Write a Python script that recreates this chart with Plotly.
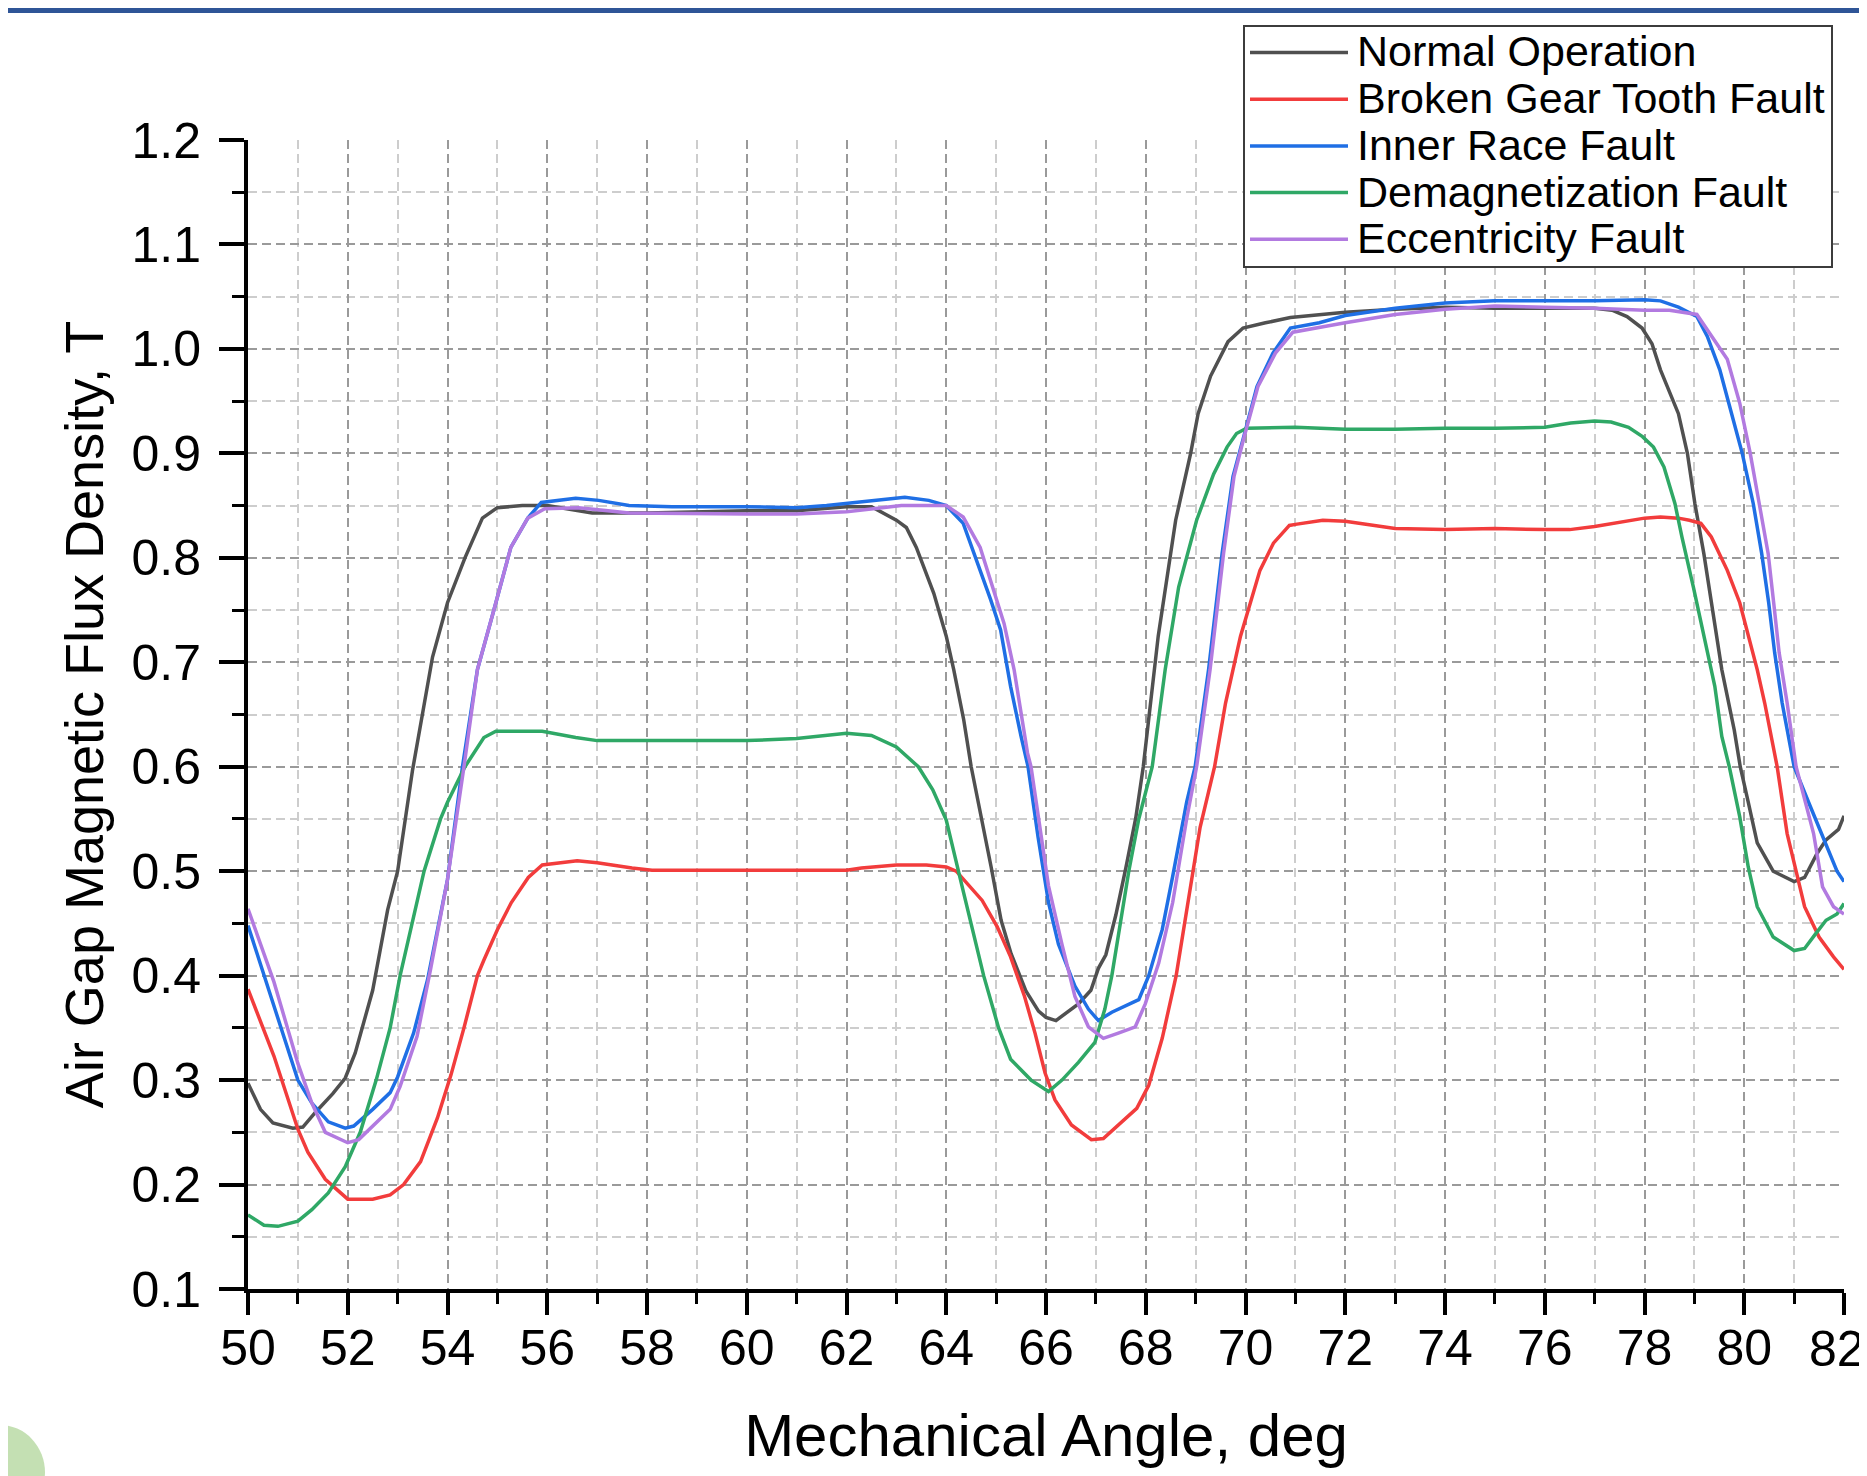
import plotly.graph_objects as go

# ---------------- data ----------------
normal_x = [50, 50.25, 50.5, 50.9, 51.1, 51.35, 51.7, 51.95, 52.15, 52.5, 52.8, 53.0, 53.3, 53.7, 54.0,
            54.35, 54.7, 55.0, 55.5, 56.0, 56.9, 58.0, 60.0, 61.0, 62.0, 62.5, 63.0, 63.2, 63.4, 63.75,
            64.0, 64.15, 64.35, 64.5, 64.9, 65.1, 65.3, 65.6, 65.85, 66.0, 66.2, 66.4, 66.65, 66.9, 67.05,
            67.2, 67.4, 67.6, 67.8, 67.95, 68.25, 68.6, 68.9, 69.05, 69.3, 69.65, 69.95, 70.4, 70.9, 72.0,
            73.0, 74.0, 75.0, 76.0, 77.0, 77.35, 77.65, 77.95, 78.15, 78.32, 78.68, 78.86, 79.01, 79.19,
            79.34, 79.55, 79.8, 79.92, 80.08, 80.26, 80.58, 81.0, 81.21, 81.46, 81.64, 81.89, 82.0]
normal_y = [0.297, 0.272, 0.259, 0.254, 0.255, 0.269, 0.287, 0.302, 0.326, 0.386, 0.463, 0.500, 0.597, 0.705, 0.757,
            0.800, 0.838, 0.848, 0.850, 0.850, 0.843, 0.843, 0.845, 0.845, 0.849, 0.849, 0.836, 0.829, 0.810, 0.766,
            0.725, 0.693, 0.645, 0.600, 0.504, 0.453, 0.421, 0.385, 0.366, 0.360, 0.357, 0.364, 0.373, 0.386, 0.407,
            0.420, 0.458, 0.503, 0.551, 0.600, 0.725, 0.836, 0.900, 0.938, 0.974, 1.007, 1.020, 1.025, 1.030, 1.035,
            1.038, 1.040, 1.039, 1.039, 1.039, 1.037, 1.031, 1.020, 1.005, 0.980, 0.938, 0.900, 0.852, 0.804,
            0.757, 0.693, 0.635, 0.600, 0.566, 0.527, 0.500, 0.490, 0.494, 0.517, 0.530, 0.540, 0.553]

broken_x = [50, 50.52, 51.0, 51.2, 51.55, 52.0, 52.5, 52.85, 53.12, 53.46, 53.8, 54.07, 54.33, 54.6, 54.73,
            55.0, 55.28, 55.62, 55.9, 56.6, 57.0, 57.7, 58.1, 60.0, 62.0, 62.3, 63.0, 63.6, 64.0, 64.2,
            64.48, 64.72, 65.02, 65.29, 65.57, 65.78, 65.98, 66.18, 66.51, 66.91, 67.15, 67.45, 67.82, 68.06,
            68.33, 68.61, 68.88, 69.09, 69.38, 69.6, 69.9, 70.09, 70.29, 70.56, 70.88, 71.0, 71.55, 72.0,
            72.52, 73.0, 74.0, 75.0, 76.0, 76.5, 77.0, 77.55, 78.0, 78.32, 78.68, 78.9, 79.13, 79.34, 79.66,
            79.91, 80.08, 80.26, 80.41, 80.55, 80.66, 80.86, 81.07, 81.21, 81.5, 81.79, 82.0]
broken_y = [0.387, 0.323, 0.253, 0.231, 0.205, 0.186, 0.186, 0.190, 0.200, 0.222, 0.264, 0.305, 0.350, 0.400, 0.415,
            0.444, 0.470, 0.494, 0.506, 0.510, 0.508, 0.503, 0.501, 0.501, 0.501, 0.503, 0.506, 0.506, 0.504, 0.500,
            0.485, 0.472, 0.447, 0.418, 0.380, 0.345, 0.307, 0.281, 0.257, 0.243, 0.244, 0.257, 0.273, 0.295,
            0.340, 0.400, 0.478, 0.542, 0.600, 0.661, 0.725, 0.757, 0.788, 0.814, 0.831, 0.832, 0.836, 0.835,
            0.831, 0.828, 0.827, 0.828, 0.827, 0.827, 0.830, 0.834, 0.838, 0.839, 0.838, 0.836, 0.833, 0.820, 0.788,
            0.757, 0.725, 0.693, 0.661, 0.629, 0.600, 0.536, 0.494, 0.466, 0.437, 0.418, 0.406]

inner_x = [50, 50.52, 51.0, 51.28, 51.61, 51.95, 52.12, 52.5, 52.85, 53.0, 53.32, 53.6, 54.0, 54.3, 54.6,
           54.93, 55.27, 55.61, 55.88, 56.57, 57.03, 57.64, 58.5, 60.0, 61.0, 61.6, 62.5, 63.17, 63.65, 64.0,
           64.34, 64.68, 64.89, 65.09, 65.29, 65.5, 65.64, 65.84, 66.05, 66.25, 66.58, 66.85, 67.05, 67.32,
           67.59, 67.86, 68.06, 68.33, 68.54, 68.82, 68.99, 69.26, 69.53, 69.75, 69.97, 70.23, 70.55, 70.9,
           71.48, 72.0, 73.0, 74.0, 75.0, 76.0, 77.0, 78.0, 78.32, 78.68, 79.05, 79.26, 79.51, 79.69, 79.96,
           80.18, 80.35, 80.49, 80.61, 80.76, 81.0, 81.29, 81.57, 81.86, 82.0]
inner_y = [0.448, 0.372, 0.300, 0.278, 0.260, 0.254, 0.256, 0.272, 0.288, 0.303, 0.345, 0.396, 0.492, 0.600, 0.693,
           0.750, 0.810, 0.838, 0.853, 0.857, 0.855, 0.850, 0.849, 0.849, 0.848, 0.850, 0.855, 0.858, 0.855, 0.850,
           0.833, 0.788, 0.760, 0.731, 0.677, 0.629, 0.600, 0.533, 0.470, 0.430, 0.390, 0.368, 0.357, 0.365,
           0.371, 0.377, 0.400, 0.444, 0.495, 0.566, 0.600, 0.693, 0.804, 0.878, 0.917, 0.964, 0.996, 1.020,
           1.025, 1.032, 1.039, 1.044, 1.046, 1.046, 1.046, 1.047, 1.046, 1.040, 1.031, 1.012, 0.980, 0.948, 0.900,
           0.852, 0.804, 0.757, 0.709, 0.661, 0.600, 0.566, 0.533, 0.500, 0.490]

demag_x = [50, 50.32, 50.6, 51.0, 51.28, 51.61, 51.95, 52.25, 52.57, 52.85, 53.05, 53.29, 53.53, 53.86, 54.0,
           54.35, 54.73, 54.97, 55.9, 56.57, 57.0, 60.0, 61.0, 62.0, 62.5, 63.0, 63.3, 63.44, 63.73, 64.0,
           64.35, 64.75, 65.05, 65.29, 65.7, 66.05, 66.32, 66.65, 66.98, 67.18, 67.32, 67.49, 67.66, 67.86,
           68.13, 68.39, 68.66, 69.02, 69.36, 69.63, 69.82, 70.02, 71.0, 72.0, 73.0, 74.0, 75.0, 76.0, 76.52,
           77.0, 77.33, 77.68, 77.96, 78.18, 78.39, 78.61, 78.75, 78.98, 79.19, 79.41, 79.55, 79.7, 79.91,
           80.08, 80.26, 80.58, 81.0, 81.21, 81.43, 81.64, 81.86, 82.0]
demag_y = [0.171, 0.161, 0.160, 0.165, 0.176, 0.192, 0.217, 0.250, 0.300, 0.350, 0.400, 0.450, 0.500, 0.550, 0.566,
           0.600, 0.628, 0.634, 0.634, 0.628, 0.625, 0.625, 0.627, 0.632, 0.630, 0.619, 0.606, 0.600, 0.578, 0.549,
           0.479, 0.400, 0.350, 0.320, 0.300, 0.289, 0.300, 0.317, 0.336, 0.368, 0.400, 0.450, 0.500, 0.550,
           0.600, 0.693, 0.772, 0.836, 0.880, 0.906, 0.919, 0.924, 0.925, 0.923, 0.923, 0.924, 0.924, 0.925, 0.929,
           0.931, 0.930, 0.925, 0.916, 0.906, 0.887, 0.852, 0.820, 0.772, 0.725, 0.677, 0.629, 0.600, 0.552,
           0.504, 0.466, 0.437, 0.424, 0.426, 0.440, 0.453, 0.459, 0.469]

ecc_x = [50, 50.52, 51.0, 51.28, 51.55, 52.0, 52.22, 52.85, 53.05, 53.39, 53.66, 54.0, 54.33, 54.6, 54.93,
         55.27, 55.61, 55.95, 56.63, 57.64, 60.0, 61.0, 62.0, 62.5, 63.1, 64.0, 64.34, 64.68, 64.95, 65.16,
         65.36, 65.63, 65.7, 66.05, 66.32, 66.58, 66.85, 67.15, 67.45, 67.79, 67.99, 68.26, 68.54, 68.82,
         69.02, 69.29, 69.56, 69.77, 69.98, 70.25, 70.6, 70.95, 72.0, 73.0, 74.0, 75.0, 76.0, 77.0, 78.0,
         78.5, 79.05, 79.3, 79.66, 79.91, 80.12, 80.3, 80.48, 80.59, 80.7, 80.86, 81.04, 81.39, 81.57, 81.79, 82.0]
ecc_y = [0.464, 0.394, 0.316, 0.278, 0.250, 0.240, 0.243, 0.272, 0.294, 0.342, 0.406, 0.492, 0.600, 0.693, 0.750,
         0.810, 0.838, 0.847, 0.848, 0.843, 0.842, 0.842, 0.844, 0.847, 0.850, 0.850, 0.839, 0.810, 0.769, 0.737,
         0.693, 0.613, 0.600, 0.486, 0.430, 0.380, 0.351, 0.340, 0.345, 0.351, 0.373, 0.412, 0.470, 0.550,
         0.600, 0.693, 0.804, 0.878, 0.917, 0.964, 0.996, 1.016, 1.025, 1.033, 1.038, 1.041, 1.040, 1.039, 1.037,
         1.037, 1.033, 1.015, 0.990, 0.948, 0.900, 0.852, 0.804, 0.757, 0.709, 0.661, 0.600, 0.536, 0.485, 0.466, 0.459]

series_names = ["Normal Operation", "Broken Gear Tooth Fault", "Inner Race Fault",
                "Demagnetization Fault", "Eccentricity Fault"]
series_colors = ["#505050", "#f23c3c", "#1f6fe5", "#2fa866", "#b27ae0"]

x_tickvals = [50, 52, 54, 56, 58, 60, 62, 64, 66, 68, 70, 72, 74, 76, 78, 80, 82]
x_ticklabels = ["50", "52", "54", "56", "58", "60", "62", "64", "66", "68", "70", "72", "74",
                "76", "78", "80", "82"]
x_minorvals = [51, 53, 55, 57, 59, 61, 63, 65, 67, 69, 71, 73, 75, 77, 79, 81]
y_tickvals = [0.1, 0.2, 0.3, 0.4, 0.5, 0.6, 0.7, 0.8, 0.9, 1.0, 1.1, 1.2]
y_ticktext = ["0.1", "0.2", "0.3", "0.4", "0.5", "0.6", "0.7", "0.8", "0.9", "1.0", "1.1", "1.2"]
y_minorvals = [0.15, 0.25, 0.35, 0.45, 0.55, 0.65, 0.75, 0.85, 0.95, 1.05, 1.15]

x_title = "Mechanical Angle, deg"
y_title = "Air Gap Magnetic Flux Density, T"

# ---------------- layout geometry ----------------
# The page body adds an 8px offset, so the figure's own coordinates are shifted by OFF.
OFF = 8
W, H = 1867, 1476
PW, PH = 1596, 1149                  # plot area size
ML, MT = 248 - OFF, 140 - OFF        # figure margins
MR = W - ML - PW
MB = H - MT - PH
FONT = "Liberation Sans, Arial, sans-serif"
TICK_SIZE = 50


def px(xs):
    """screen x -> paper x"""
    return (xs - OFF - ML) / PW


def py(ys):
    """screen y -> paper y"""
    return (MT + PH - (ys - OFF)) / PH


fig = go.Figure()
all_x = [normal_x, broken_x, inner_x, demag_x, ecc_x]
all_y = [normal_y, broken_y, inner_y, demag_y, ecc_y]
for xs, ys, nm, col in zip(all_x, all_y, series_names, series_colors):
    fig.add_trace(go.Scatter(x=xs, y=ys, mode="lines", name=nm,
                             line=dict(color=col, width=3.5), showlegend=False))

grid_major = "#9a9a9a"
grid_minor = "#cdcdcd"
dash = "9px,5px"

# the last x label sits at the page edge; it is drawn as an annotation pulled inside the page
axis_ticktext = x_ticklabels[:-1] + [""]

fig.update_layout(
    width=W, height=H,
    margin=dict(l=ML, r=MR, t=MT, b=MB, pad=0, autoexpand=False),
    paper_bgcolor="white", plot_bgcolor="white",
    font=dict(family=FONT, color="black"),
    showlegend=False,
    xaxis=dict(
        range=[50, 82], tickmode="array", tickvals=x_tickvals, ticktext=axis_ticktext,
        automargin=False,
        ticks="outside", ticklen=22, tickwidth=3.5, tickcolor="black",
        showline=True, linecolor="black", linewidth=4, zeroline=False,
        showgrid=True, gridcolor=grid_major, gridwidth=1.5, griddash=dash,
        tickfont=dict(size=TICK_SIZE, family=FONT, color="black"),
        ticklabelstandoff=-10, ticklabeloverflow="allow",
        minor=dict(tickmode="array", tickvals=x_minorvals, ticks="outside", ticklen=11,
                   tickwidth=3, tickcolor="black", showgrid=True, gridcolor=grid_minor,
                   gridwidth=1.5, griddash=dash),
        title=dict(text=x_title, font=dict(size=60, family=FONT, color="black"), standoff=40),
    ),
    yaxis=dict(
        range=[0.1, 1.2], tickmode="array", tickvals=y_tickvals, ticktext=y_ticktext,
        automargin=False,
        ticks="outside", ticklen=25, tickwidth=3.5, tickcolor="black",
        showline=True, linecolor="black", linewidth=4, zeroline=False,
        showgrid=True, gridcolor=grid_major, gridwidth=1.5, griddash=dash,
        tickfont=dict(size=TICK_SIZE, family=FONT, color="black"),
        ticklabelstandoff=8,
        minor=dict(tickmode="array", tickvals=y_minorvals, ticks="outside", ticklen=12,
                   tickwidth=3, tickcolor="black", showgrid=True, gridcolor=grid_minor,
                   gridwidth=1.5, griddash=dash),
        title=dict(text=y_title, font=dict(size=54, family=FONT, color="black"), standoff=12),
    ),
)

shapes = []
annotations = []
# hide grid lines lying on the top and right edges of the plot area
shapes.append(dict(type="line", xref="paper", yref="paper", x0=0.004, x1=1, y0=1, y1=1,
                   line=dict(color="white", width=4), layer="below"))
shapes.append(dict(type="line", xref="paper", yref="paper", x0=1, x1=1, y0=0.004, y1=1,
                   line=dict(color="white", width=4), layer="below"))
# top band of the page
shapes.append(dict(type="rect", xref="paper", yref="paper", x0=px(-5), x1=px(W + 20),
                   y0=py(OFF + 5), y1=py(OFF - 5), line=dict(width=0), fillcolor="#2f5597",
                   layer="above"))
# green blob bottom-left
shapes.append(dict(type="circle", xref="paper", yref="paper", x0=px(-45), x1=px(45),
                   y0=py(1520), y1=py(1425), line=dict(width=0), fillcolor="#b5d8a0",
                   opacity=0.8, layer="above"))

# last x tick label, kept inside the page
annotations.append(dict(xref="paper", yref="paper", x=px(W - 1), y=py(1349),
                        text=x_ticklabels[-1], showarrow=False, xanchor="right",
                        yanchor="middle", borderpad=0,
                        font=dict(size=TICK_SIZE, family=FONT, color="black")))

# manual legend
LX0, LX1, LY0, LY1 = 1244, 1832, 26, 267
shapes.append(dict(type="rect", xref="paper", yref="paper", x0=px(LX0), x1=px(LX1),
                   y0=py(LY1), y1=py(LY0), line=dict(color="#3c3c3c", width=2),
                   fillcolor="white", layer="above"))
row0, step = 51.5, 46.7
for i, (nm, col) in enumerate(zip(series_names, series_colors)):
    yy = row0 + i * step
    shapes.append(dict(type="line", xref="paper", yref="paper", x0=px(1250), x1=px(1348),
                       y0=py(yy + 1), y1=py(yy + 1), line=dict(color=col, width=3.5),
                       layer="above"))
    annotations.append(dict(xref="paper", yref="paper", x=px(1355), y=py(yy), text=nm,
                            showarrow=False, xanchor="left", yanchor="middle",
                            font=dict(size=43, family=FONT, color="black")))

fig.update_layout(shapes=shapes, annotations=annotations)
fig.write_html("out.html")
